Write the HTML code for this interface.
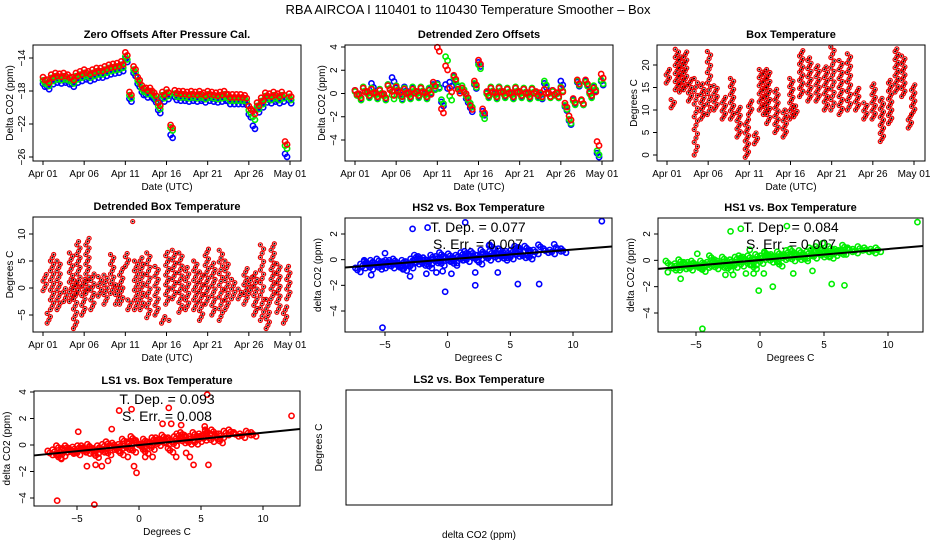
<!DOCTYPE html>
<html><head><meta charset="utf-8"><style>
body{margin:0;background:#fff;width:936px;height:540px;overflow:hidden}
svg text{font-family:"Liberation Sans",sans-serif;fill:#000}
</style></head><body>
<svg id="c" width="936" height="540" xmlns="http://www.w3.org/2000/svg">
<text x="468" y="14" text-anchor="middle" font-size="13">RBA   AIRCOA I   110401 to 110430   Temperature Smoother – Box</text>
</svg>
<script>
// ---- time series data (day index from Apr 01, 0.5 day steps) ----
const days = [0,0.5,1,1.5,2,2.5,3,3.5,4,4.5,5,5.5,6,6.5,7,7.5,8,8.5,9,9.5,10,10.5,11,11.5,12,12.5,13,13.5,14,14.5,15,15.5,16,16.5,17,17.5,18,18.5,19,19.5,20,20.5,21,21.5,22,22.5,23,23.5,24,24.5,25,25.5,26,26.5,27,27.5,28,28.5,29,29.4,29.9];
const zeroRed = [-16.5,-16.8,-16.2,-16,-16.1,-16,-16.2,-16.5,-16,-15.8,-15.6,-15.8,-15.6,-15.4,-15.4,-15.2,-15,-14.9,-14.8,-14.6,-13.5,-18.3,-15.2,-16.5,-17.5,-17.8,-17.8,-18.4,-19.6,-18.3,-18,-22.3,-18.1,-18.2,-18.2,-18.3,-18.2,-18.3,-18.2,-18.4,-18.2,-18.3,-18.4,-18.3,-18.2,-18.6,-18.6,-18.6,-18.6,-18.7,-20,-20.6,-19.6,-19,-18.4,-18.5,-18.3,-18.5,-18.3,-24.3,-18.5];
const zeroGreen = [-16.9,-17.2,-16.6,-16.4,-16.5,-16.4,-16.6,-16.9,-16.4,-16.2,-16,-16.2,-16,-15.8,-15.8,-15.6,-15.4,-15.3,-15.2,-15,-14,-18.7,-15.6,-16.9,-17.9,-18.2,-18.2,-18.8,-20,-18.7,-18.4,-22.6,-18.5,-18.6,-18.6,-18.7,-18.6,-18.7,-18.6,-18.8,-18.6,-18.7,-18.8,-18.7,-18.6,-19,-19,-19,-19,-19.1,-20.5,-21.3,-20,-19.4,-18.8,-18.9,-18.7,-18.9,-18.7,-24.8,-18.9];
const zeroBlue = [-17.3,-17.6,-17,-16.8,-16.9,-16.8,-17,-17.3,-16.8,-16.6,-16.4,-16.6,-16.4,-16.2,-16.2,-16,-15.8,-15.7,-15.6,-15.4,-14.3,-19.1,-16,-17.3,-18.3,-18.6,-18.6,-19.2,-20.5,-19.1,-18.8,-23.5,-18.9,-19,-19,-19.1,-19,-19.1,-19,-19.2,-19,-19.1,-19.2,-19.1,-19,-19.4,-19.4,-19.4,-19.4,-19.5,-21,-22.4,-20.4,-19.8,-19.2,-19.3,-19.1,-19.3,-19.1,-25.8,-19.3];
const detRed = [0.1,-0.2,0.3,0,0.2,-0.1,0.1,-0.2,0.5,0,0.4,-0.1,0.2,-0.1,0.2,0,0.3,-0.1,0.1,0.8,3.8,-1.5,2.2,0.3,1.4,0.2,0.3,-0.2,-1.2,0.9,2.7,-1.5,0,0.3,-0.1,0.3,0,0.2,-0.1,0.3,0,0.2,-0.1,0.2,0,-0.1,0.2,-0.1,0.1,-0.1,0.3,-1.0,-2.1,-0.6,1.0,-0.7,1.0,0,0.3,-4.3,1.5];
const detGreen = [0,-0.4,0.4,-0.2,0.3,-0.3,0.2,-0.4,0.6,-0.3,0.5,-0.4,0.3,-0.3,0.4,-0.2,0.4,-0.3,0.3,0.5,0.6,-0.7,3.0,-0.4,1.2,0.5,0.5,-0.4,-1.0,0.7,2.3,-2.0,-0.2,0.4,-0.3,0.4,-0.2,0.3,-0.3,0.4,-0.2,0.3,-0.3,0.3,-0.2,-0.2,0.9,-0.2,0,-0.2,0.4,-1.2,-2.4,-0.8,0.9,-0.8,0.8,-0.2,0.5,-5.1,1.0];
const detBlue = [0.1,-0.3,0.3,-0.1,0.7,-0.2,0.1,-0.3,0.6,1.2,0.3,-0.3,0.4,-0.2,0.3,-0.1,0.3,-0.2,0.2,0.6,0.7,-0.9,0.6,0.8,1.3,0.4,0.3,-0.6,-1.4,0.6,2.5,-1.7,-0.1,0.3,-0.2,0.4,-0.1,0.2,-0.2,0.3,-0.1,0.2,-0.2,0.2,-0.1,-0.3,0.7,-0.1,0.1,-0.2,0.9,-1.3,-2.5,-0.7,0.8,-0.8,0.9,-0.1,0.4,-5.3,0.9];
// ---- box temperature strips: day, low, high ----
const boxDay = [0,0.6,1.1,1.6,2.1,2.7,3.4,4.2,5,5.8,6.8,7.8,8.6,9.6,10,10.7,11.3,11.8,12.2,13.2,14.2,15,15.5,16.2,17.2,18.2,19.2,20,21,22,23,24,25,26,27,27.8,28.6,29.4,29.8];
const boxLo = [16,10.5,14.5,14,14.5,12,0,8,9,10,8,8,4,-0.5,9,2.5,10,9,7,5,4,8,8.5,13,12,12,10,10,9,10,10,8,8,3,7,14,13,6,9];
const boxHi = [19.5,12.5,23.5,22,23,17,17,16,23,15.5,13,17,11,8,12.5,5,19.5,19,19,15,10,17,11,23.5,22,20,20,24,21,22.5,15,12,16,13,17,24,22.5,9,16];
const dbDay = [0.1,0.6,1,1.8,2.6,3.3,3.8,4.2,4.8,5.3,5.9,6.8,7.5,8.3,8.9,9.4,10.1,10.4,11,11.2,11.9,12.7,13.7,14.5,15,15.4,15.8,16.6,17.4,18.4,19.1,19.8,20.6,21.5,22.2,23,23.8,24.5,25.1,25.7,26.5,27.2,27.8,28.5,29.3,29.7];
const dbLo = [-0.5,-6.5,-4,-4,-2.5,-2.5,-7.5,-1,-5,-1,-4,-1.5,-3,-1,-3,-3,4,-4,12.3,-4,-4,-5.5,-5,-6.5,-3,-6,-2,-4.5,-4,-4,-6,-3,-5,-6,-4,-2,-2,-3,-1,-5,-6,-7.5,-2,-4.5,-6.5,-2];
const dbHi = [3,-4.5,6.5,5,0,6.5,2,9,2,9.5,3,2.5,2.5,6.5,1,4,6.5,-2,12.3,5,6,6.5,4.5,-5,7,-5.5,7.5,6.5,4,5,3,7.5,5,7,5,2,0,4,2,3,8,-2,8.5,4.5,-3.5,4];
// ---- scatter data ----
const tempCore = [-7.2,-6.8,-6.5,-6.2,-6,-5.8,-5.5,-5.2,-5,-4.8,-4.5,-4.2,-4,-3.8,-3.5,-3.2,-3,-2.8,-2.5,-2.2,-2,-1.8,-1.5,-1.2,-1,-0.8,-0.5,-0.2,0,0.2,0.5,0.8,1,1.2,1.5,1.8,2,2.2,2.5,2.8,3,3.2,3.5,3.8,4,4.2,4.5,4.8,5,5.2,5.5,5.8,6,6.3,6.6,7,7.4,7.8,8.3,8.8,9.2,-6.5,-5.5,-4.5,-3.5,-2.5,-1.5,-0.5,0.5,1.5,2.5,3.5,4.5,5.5,6.5];
const hs2Core = [-0.8,-0.5,-0.3,-0.6,-0.2,-0.4,-0.1,-0.5,-0.3,-0.2,-0.5,-0.1,-0.4,-0.6,-0.2,-0.3,-0.5,-0.1,-0.2,0.1,-0.3,0,-0.2,0.2,-0.1,0.1,-0.3,0.1,0,0.3,-0.1,0.2,0.1,0.4,0,0.3,0.5,0.1,0.2,0.6,0.3,0.1,0.5,0.2,0.4,0.7,0.3,0.5,0.2,0.6,0.4,0.8,0.3,0.9,0.5,0.6,1.0,0.7,0.6,0.8,0.7,-0.2,-0.6,-0.2,-0.7,0.2,-0.5,0.4,-0.3,0.5,-0.2,1.0,0.1,0.9,0.2];
const hs1Core = [-0.2,-0.6,-0.4,-0.1,-0.5,-0.3,-0.6,-0.2,-0.4,-0.5,-0.2,-0.4,-0.3,0.2,-0.5,-0.2,-0.4,0.1,-0.3,-0.1,-0.4,0.1,-0.3,0.1,-0.2,0.2,-0.2,0.3,-0.1,0.2,0.4,0,0.3,0.1,0.5,0.2,0.3,0.6,0.1,0.4,0.2,0.6,0.3,0.5,0.8,0.3,0.6,0.4,0.7,0.4,0.9,0.5,0.7,0.6,1.0,0.8,0.7,0.9,0.8,0.7,0.8,-0.6,-0.3,-0.7,-0.2,-0.6,0.2,-0.5,0.5,-0.3,0.7,0.1,0.9,0.3,0.6];
const ls1Core = [-0.6,-0.5,-0.2,-0.7,-0.4,-0.2,-0.5,-0.3,-0.6,-0.2,-0.4,-0.5,-0.1,-0.3,-0.5,-0.2,-0.4,-0.1,-0.6,-0.2,0,-0.3,-0.1,0.3,-0.2,0.1,-0.4,0.2,0,-0.1,0.3,0.1,-0.2,0.4,0.1,0.3,0.6,0.2,0.4,0.1,0.5,0.7,0.3,0.6,0.2,0.5,0.8,0.4,0.7,0.5,0.9,0.4,1.0,0.6,0.7,0.9,1.0,0.8,0.7,0.9,0.8,-0.9,-0.4,-0.2,-0.8,0.1,-0.6,0.5,-0.5,0.4,-0.4,0.8,0.2,1.0,0.3];
const hs2OutX = [-2.8,-1.6,1.4,12.3,-6.1,-3,-1.7,-0.9,-0.4,0.3,2.2,2.2,4,5.6,7.3,-0.2,-5.2,8.5,-5,3.3];
const hs2OutY = [2.4,2.5,2.9,3.0,-1.2,-1.3,-1.1,-1.0,-0.9,-1.1,-1.0,-2.0,-1.0,-1.9,-1.9,-2.5,-5.3,1.2,0.5,1.1];
const hs1OutX = [-2.3,-1.5,2.1,12.3,-7.2,-6.2,-2.7,-2.1,-1.1,-0.5,0.3,-0.1,1,2.6,4.1,5.6,6.6,-4.5,-4.9,-0.8,4.9];
const hs1OutY = [2.2,2.4,2.6,2.9,-0.9,-1.4,-1.1,-1.1,-1.0,-1.0,-1.0,-2.3,-2.0,-1.0,-0.8,-1.8,-1.9,-5.2,0.5,0.8,1.3];
const ls1OutX = [-1.6,-0.6,2.4,5.5,12.3,-4.9,-2.2,1.9,2.6,3.4,5.3,-6.3,-4.2,-3.5,-3,-2.5,-0.4,-0.2,-0.9,0.5,1.1,3,3.8,4.1,4.4,5.6,-6.6,-3.6];
const ls1OutY = [2.6,2.7,2.8,3.8,2.2,1.0,1.2,1.6,1.6,1.5,1.4,-1.0,-1.6,-1.5,-1.6,-1.2,-1.6,-2.1,-0.9,-0.9,-0.9,-0.9,-0.6,-0.9,-1.5,-1.5,-4.2,-4.5];
const fitSlope = [0.077,0.084,0.093];
const fitIntercept = [0.02,0.02,0.0];
const dateTicks = [0,5,10,15,20,25,30];
const dateLabels = ["Apr 01","Apr 06","Apr 11","Apr 16","Apr 21","Apr 26","May 01"];

const svg=document.getElementById('c');
const NS='http://www.w3.org/2000/svg';
function mk(tag,attrs,parent){const e=document.createElementNS(NS,tag);for(const k in attrs)e.setAttribute(k,attrs[k]);(parent||svg).appendChild(e);return e;}
function lin(v0,p0,v1,p1){const k=(p1-p0)/(v1-v0);return v=>p0+(v-v0)*k;}

function panel(name,box,title,xlab,ylab,opts){
  const g=mk('g',{});
  
  
  const [x0,y0,x1,y1]=box;
  const t=mk('text',{x:(x0+x1)/2,y:y0-7,'text-anchor':'middle','font-size':11,'font-weight':'bold'},g);
  t.textContent=title;
  
  
  const xl=mk('text',{x:(x0+x1)/2,y:y1+(opts.xlabOff||29),'text-anchor':'middle','font-size':10},g);
  xl.textContent=xlab;
  
  
  const yx=opts.ylabX||(x0-24);
  const yl=mk('text',{x:yx,y:(y0+y1)/2,'text-anchor':'middle','font-size':10,transform:`rotate(-90 ${yx} ${(y0+y1)/2})`},g);
  yl.textContent=ylab;
  
  
  const plot=mk('g',{},g);
  
  
  const fr=mk('rect',{x:x0,y:y0,width:x1-x0,height:y1-y0,fill:'none',stroke:'#000','stroke-width':1},g);
  
  
  if(opts.xs){
    const ax=mk('g',{},g);
    
    
    opts.xt.forEach((v,i)=>{const px=opts.xs(v);
      mk('line',{x1:px,x2:px,y1:y1,y2:y1+4,stroke:'#000'},ax);
      const tl=mk('text',{x:px,y:y1+16,'text-anchor':'middle','font-size':10},ax);
      tl.textContent=opts.xl[i];
      
      });
    const ay=mk('g',{},g);
    
    
    opts.yt.forEach(v=>{const py=opts.ys(v);
      mk('line',{x1:x0-4,x2:x0,y1:py,y2:py,stroke:'#000'},ay);
      const tl=mk('text',{x:x0-8,y:py,'text-anchor':'middle','font-size':10,transform:`rotate(-90 ${x0-8} ${py})`},ay);
      tl.textContent=String(v).replace('-','\u2212');
      
      });
  }
  return plot;
}
function pt(parent,x,y,col,r,fill,sw){const c=mk('circle',{cx:x,cy:y,r:r||2.6,fill:fill||'none',stroke:col,'stroke-width':sw||1.6},parent);
  
  return c;}

const BLUE='#0000ff',GREEN='#00ee00',RED='#ff0000';
// Panel 1
{const xs=lin(0,43,30,290),ys=lin(-14,58,-26,157);
 const p=panel('zero-offsets-panel',[33,45,301,161],'Zero Offsets After Pressure Cal.','Date (UTC)','Delta CO2 (ppm)',{xs,ys,xt:dateTicks,xl:dateLabels,yt:[-14,-18,-22,-26],ylabX:13});
 [[zeroBlue,BLUE],[zeroGreen,GREEN],[zeroRed,RED]].forEach(([a,c])=>days.forEach((d,i)=>{pt(p,xs(d),ys(a[i])-1.5,c);pt(p,xs(d)+2,ys(a[i])+1.5,c);}));}
// Panel 2
{const xs=lin(0,355,30,602),ys=lin(4,47,-4,140);
 const p=panel('detrended-zero-offsets-panel',[345,45,613,161],'Detrended Zero Offsets','Date (UTC)','Delta CO2 (ppm)',{xs,ys,xt:dateTicks,xl:dateLabels,yt:[-4,-2,0,2,4],ylabX:325});
 [[detBlue,BLUE],[detGreen,GREEN],[detRed,RED]].forEach(([a,c])=>days.forEach((d,i)=>{pt(p,xs(d),ys(a[i])-2,c);pt(p,xs(d)+2,ys(a[i])+2,c);}));}
function strips(p,xs,ys,D,L,H){const offs=[-0.1,0.12,0.3];D.forEach((d,i)=>{let k=0;for(let v=L[i];v<=H[i]+0.01;v+=Math.max(0.6,(H[i]-L[i])/18)){const o=offs[k%3];k++;pt(p,xs(d+o),ys(v),'#ee0000',2,'none',1.2);pt(p,xs(d+o),ys(v),'#000',0.7,'#000',0.5);}});}
// Panel 3
{const xs=lin(0,667,30,914),ys=lin(20,65,0,155);
 const p=panel('box-temperature-panel',[657,45,925,161],'Box Temperature','Date (UTC)','Degrees C',{xs,ys,xt:dateTicks,xl:dateLabels,yt:[0,5,10,15,20],ylabX:637});
 strips(p,xs,ys,boxDay,boxLo,boxHi);}
// Panel 4
{const xs=lin(0,43,30,290),ys=lin(10,234,-5,315);
 const p=panel('detrended-box-temperature-panel',[33,217,301,332],'Detrended Box Temperature','Date (UTC)','Degrees C',{xs,ys,xt:dateTicks,xl:dateLabels,yt:[-5,0,5,10],ylabX:13});
 strips(p,xs,ys,dbDay,dbLo,dbHi);}
function scatter(name,box,title,xs,ys,yt,core,ox,oy,col,k,tx){
  const p=panel(name,box,title,'Degrees C','delta CO2 (ppm)',{xs,ys,xt:[-5,0,5,10],xl:['\u22125','0','5','10'],yt,ylabX:box[0]-24});
  tempCore.forEach((x,i)=>{pt(p,xs(x),ys(core[i]),col);pt(p,xs(x)+3,ys(core[i])+2,col);pt(p,xs(x)-2,ys(core[i])-2,col);});
  ox.forEach((x,i)=>pt(p,xs(x),ys(oy[i]),col));
  const vL=(box[0]-xs(0))/(xs(1)-xs(0)),vR=(box[2]-xs(0))/(xs(1)-xs(0));
  const ln=mk('line',{x1:box[0],x2:box[2],y1:ys(fitIntercept[k]+fitSlope[k]*vL),y2:ys(fitIntercept[k]+fitSlope[k]*vR),stroke:'#000','stroke-width':2},p);
  
  
  const t1=mk('text',{x:tx[0],y:tx[1],'text-anchor':'middle','font-size':14},p);
  t1.textContent='T. Dep. =  '+fitSlope[k].toFixed(3);
  
  
  const t2=mk('text',{x:tx[0],y:tx[1]+17,'text-anchor':'middle','font-size':14},p);
  t2.textContent=['S. Err. =  0.007','S. Err. =  0.007','S. Err. =  0.008'][k];
  
  
}
scatter('hs2-scatter-panel',[345,218,612,332],'HS2 vs. Box Temperature',lin(-5,385,10,573),lin(2,234,-4,311),[-4,-2,0,2],hs2Core,hs2OutX,hs2OutY,BLUE,0,[478,232]);
scatter('hs1-scatter-panel',[658,218,923,332],'HS1 vs. Box Temperature',lin(-5,696,10,888),lin(2,234,-4,313),[-4,-2,0,2],hs1Core,hs1OutX,hs1OutY,GREEN,1,[791,232]);
scatter('ls1-scatter-panel',[34,391,300,506],'LS1 vs. Box Temperature',lin(-5,77,10,263),lin(4,392,-4,498),[-4,-2,0,2,4],ls1Core,ls1OutX,ls1OutY,RED,2,[167,404]);
// Panel 8 empty
panel('ls2-scatter-panel',[346,390,612,505],'LS2 vs. Box Temperature','delta CO2 (ppm)','Degrees C',{xlabOff:33,ylabX:322});
</script>
</body></html>
